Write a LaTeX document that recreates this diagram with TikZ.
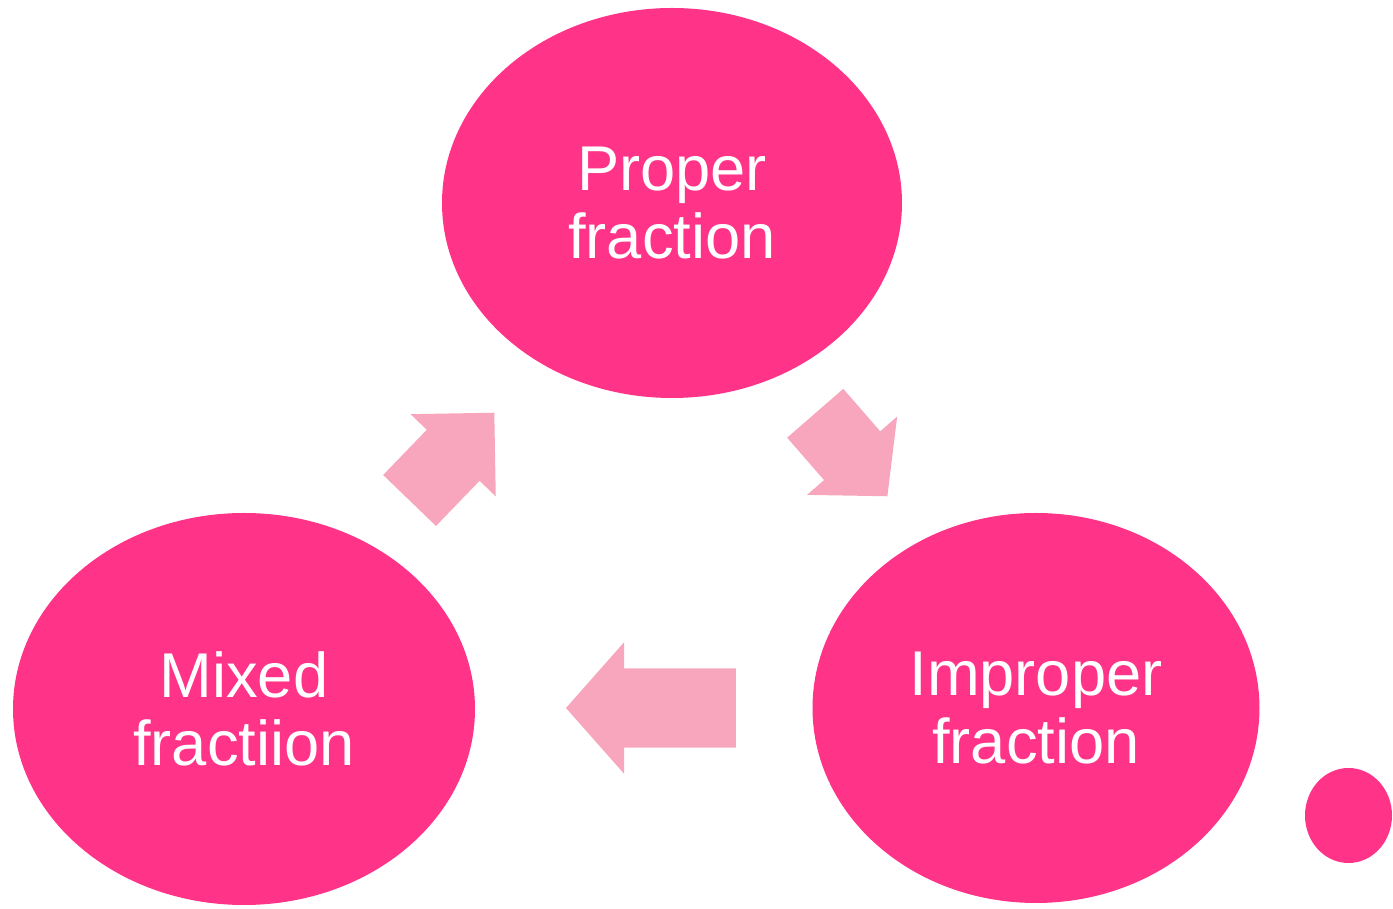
\documentclass[tikz,border=0pt]{standalone}
\usepackage{fontspec}
\setmainfont{Liberation Sans}
\usepackage{tikz}
\usetikzlibrary{shapes.geometric,shapes.arrows}

\definecolor{hotpink}{HTML}{FF3388}
\definecolor{softpink}{HTML}{F8A6BE}

\begin{document}
\begin{tikzpicture}[
  bubble/.style={ellipse,fill=hotpink,text=white,inner sep=0pt,align=center,
                 font=\fontsize{18}{19.5}\selectfont},
  bigarrow/.style={single arrow,fill=softpink,inner xsep=0pt,anchor=tip}]

  \useasboundingbox (0,0) rectangle (13.93,9.09);

  \node[bubble,minimum width=4.60cm,minimum height=3.90cm] (P) at (6.72,7.06)  {Proper\\fraction};
  \node[bubble,minimum width=4.47cm,minimum height=3.90cm] (I) at (10.36,2.01) {Improper\\fraction};
  \node[bubble,minimum width=4.62cm,minimum height=3.92cm] (M) at (2.44,2.00)  {Mixed\\fractiion};
  \node[ellipse,fill=hotpink,minimum width=0.87cm,minimum height=0.95cm] (dot) at (13.485,0.935) {};

  \node[bigarrow,minimum height=1.22cm,inner ysep=0.36cm,
        single arrow head extend=0.225cm,single arrow tip angle=90,rotate=46]  (MP) at (4.95,4.97) {};
  \node[bigarrow,minimum height=1.10cm,inner ysep=0.365cm,
        single arrow head extend=0.225cm,single arrow tip angle=96,rotate=-49] (PI) at (8.88,4.12) {};
  \node[bigarrow,minimum height=1.70cm,inner ysep=0.39cm,
        single arrow head extend=0.26cm,single arrow tip angle=97,rotate=180]  (IM) at (5.65,2.01) {};

\end{tikzpicture}
\end{document}
